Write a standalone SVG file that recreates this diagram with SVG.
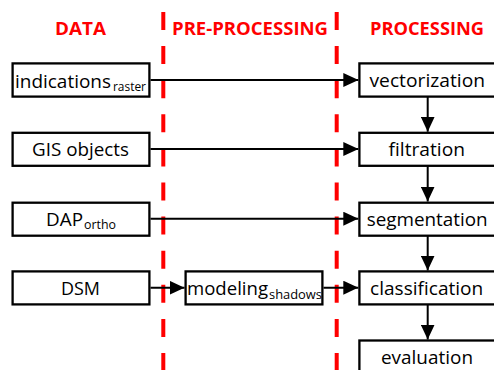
<svg xmlns="http://www.w3.org/2000/svg" width="494" height="370" viewBox="0 0 494 370">
<style>
.hdr{font-family:"Open Sans","Liberation Sans",sans-serif;font-weight:bold;font-size:17.3px;fill:#FF0000}
.lbl{font-family:"Open Sans","Liberation Sans",sans-serif;font-size:17.3px;fill:#000}
.sub{font-size:13px}
.box{fill:#fff;stroke:#000;stroke-width:2.3}
.sep{stroke:#FF0000;stroke-width:4;stroke-dasharray:18 16.1;fill:none}
.con{stroke:#000;stroke-width:2;fill:none;marker-end:url(#arr)}
</style>
<defs>
<marker id="arr" viewBox="0 0 15 14" refX="15" refY="7" markerWidth="15" markerHeight="14" markerUnits="userSpaceOnUse" orient="auto">
<path d="M0,0 L15,7 L0,14 z" fill="#000"/>
</marker>
</defs>
<rect width="494" height="370" fill="#fff"/>
<g id="separators">
<line class="sep" x1="163.3" y1="12" x2="163.3" y2="370"/>
<line class="sep" x1="336.7" y1="12" x2="336.7" y2="370"/>
</g>
<g id="headers">
<text class="hdr" x="55" y="35" textLength="51" lengthAdjust="spacingAndGlyphs">DATA</text>
<text class="hdr" x="172" y="35" textLength="156" lengthAdjust="spacingAndGlyphs">PRE-PROCESSING</text>
<text class="hdr" x="370" y="35" textLength="114" lengthAdjust="spacingAndGlyphs">PROCESSING</text>
</g>
<g id="connectors">
<line class="con" x1="150.5" y1="80" x2="358.3" y2="80"/>
<line class="con" x1="150.5" y1="149" x2="358.3" y2="149"/>
<line class="con" x1="150.5" y1="218.7" x2="358.3" y2="218.7"/>
<line class="con" x1="150.5" y1="287.7" x2="184.5" y2="287.7"/>
<line class="con" x1="323.5" y1="287.7" x2="358.3" y2="287.7"/>
<line class="con" x1="427.7" y1="97" x2="427.7" y2="131.7"/>
<line class="con" x1="427.7" y1="166" x2="427.7" y2="201.5"/>
<line class="con" x1="427.7" y1="236" x2="427.7" y2="270.5"/>
<line class="con" x1="427.7" y1="305" x2="427.7" y2="339.5"/>
</g>
<g id="indications">
<rect class="box" x="12.6" y="63.4" width="136.8" height="33.2"/>
<text class="lbl" y="87.5"><tspan x="15" textLength="96" lengthAdjust="spacingAndGlyphs">indications</tspan><tspan class="sub" x="113" y="91.2" textLength="33" lengthAdjust="spacingAndGlyphs">raster</tspan></text>
</g>
<g id="gis">
<rect class="box" x="12.6" y="132.8" width="136.8" height="33"/>
<text class="lbl" x="32" y="156" textLength="97" lengthAdjust="spacingAndGlyphs">GIS objects</text>
</g>
<g id="dap">
<rect class="box" x="12.6" y="202.7" width="136.8" height="33"/>
<text class="lbl" y="225.5"><tspan x="46" textLength="37" lengthAdjust="spacingAndGlyphs">DAP</tspan><tspan class="sub" x="84" y="229" textLength="32" lengthAdjust="spacingAndGlyphs">ortho</tspan></text>
</g>
<g id="dsm">
<rect class="box" x="12.6" y="271.4" width="136.8" height="33"/>
<text class="lbl" x="61" y="295.3" textLength="39" lengthAdjust="spacingAndGlyphs">DSM</text>
</g>
<g id="modeling">
<rect class="box" x="185.6" y="271.4" width="136.8" height="33"/>
<text class="lbl" y="295.3"><tspan x="187" textLength="81" lengthAdjust="spacingAndGlyphs">modeling</tspan><tspan class="sub" x="269" y="299" textLength="53" lengthAdjust="spacingAndGlyphs">shadows</tspan></text>
</g>
<g id="vectorization">
<rect class="box" x="359.4" y="63.4" width="145" height="33.2"/>
<text class="lbl" x="369.5" y="87.4" textLength="115.5" lengthAdjust="spacingAndGlyphs">vectorization</text>
</g>
<g id="filtration">
<rect class="box" x="359.4" y="132.8" width="145" height="33"/>
<text class="lbl" x="388.5" y="155.8" textLength="76.5" lengthAdjust="spacingAndGlyphs">filtration</text>
</g>
<g id="segmentation">
<rect class="box" x="359.4" y="202.7" width="145" height="33"/>
<text class="lbl" x="366.7" y="225.7" textLength="121" lengthAdjust="spacingAndGlyphs">segmentation</text>
</g>
<g id="classification">
<rect class="box" x="359.4" y="271.4" width="145" height="33"/>
<text class="lbl" x="370" y="294.5" textLength="113.3" lengthAdjust="spacingAndGlyphs">classification</text>
</g>
<g id="evaluation">
<rect class="box" x="359.4" y="340.5" width="145" height="40"/>
<text class="lbl" x="381" y="363.5" textLength="92" lengthAdjust="spacingAndGlyphs">evaluation</text>
</g>
</svg>
